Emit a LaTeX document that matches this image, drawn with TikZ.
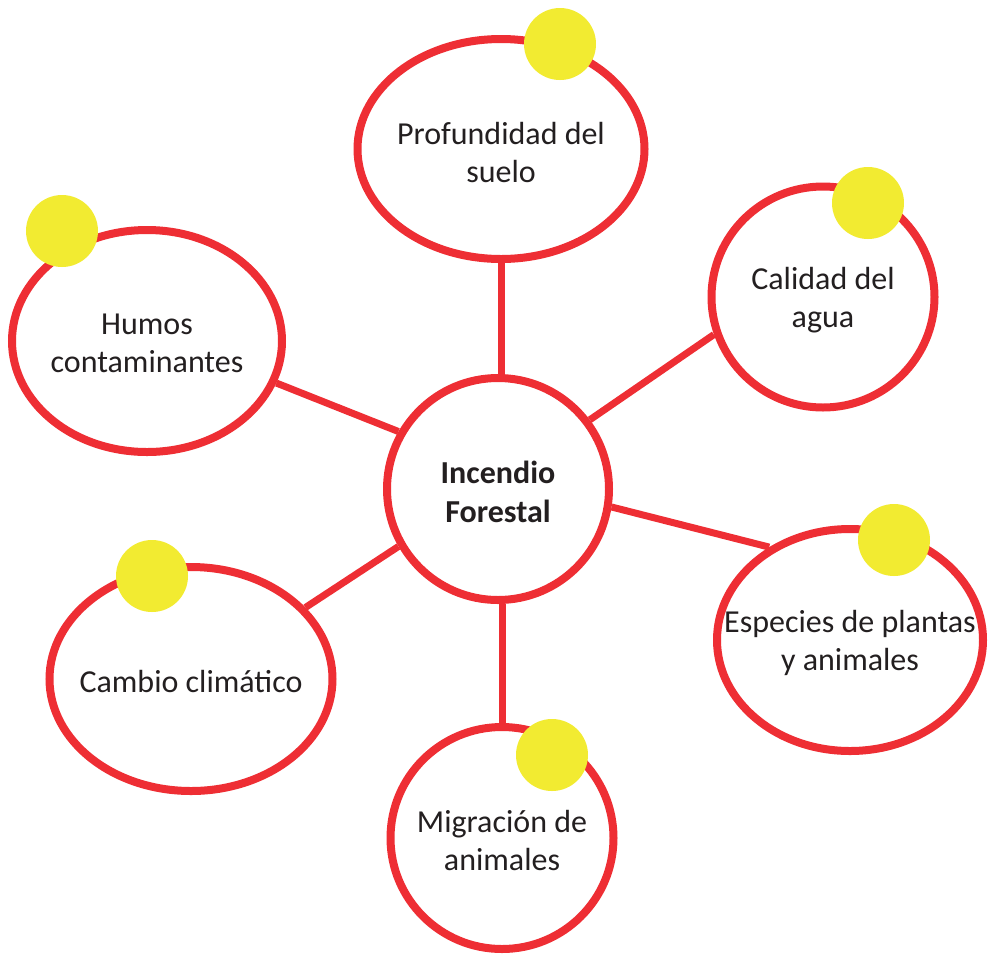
\documentclass[tikz,border=0pt]{standalone}
\usepackage{fontspec}
\setmainfont{Carlito}
\usetikzlibrary{shapes.geometric}
\definecolor{ringred}{RGB}{238,46,52}
\definecolor{dotyellow}{RGB}{242,235,49}
\definecolor{txt}{RGB}{35,31,32}
\pgfdeclarelayer{background}
\pgfsetlayers{background,main}
% text block whose last baseline sits #1 below the shape centre
\newcommand\bubtxt[2]{\raisebox{#1}[0pt][0pt]{\begin{tabular}[b]{@{}c@{}}#2\end{tabular}}}
\begin{document}
\begin{tikzpicture}[x=0.75pt,y=-0.75pt,
  bubble/.style={ellipse, draw=ringred, line width=6pt, fill=white, text=txt,
    font=\fontsize{24}{28.5}\selectfont, inner sep=-60pt},
  hub/.style={circle, draw=ringred, line width=6pt, fill=white, text=txt,
    font=\fontsize{24}{29}\selectfont\bfseries, inner sep=-40pt,
    minimum size=222*0.75pt},
  dot/.style={circle, fill=dotyellow, minimum size=54pt, inner sep=0pt},
  link/.style={draw=ringred, line width=5.25pt}]
\useasboundingbox (0,0) rectangle (992,954);

\node[hub] (C) at (498,489) {\bubtxt{-24.75pt}{Incendio\\Forestal}};
\node[bubble, minimum width=287*0.75pt, minimum height=220*0.75pt] (P) at (501,149) {\bubtxt{-24.75pt}{Profundidad del\\suelo}};
\node[bubble, minimum width=223*0.75pt, minimum height=221*0.75pt] (Q) at (823,297) {\bubtxt{-22.5pt}{Calidad del\\agua}};
\node[bubble, minimum width=270*0.75pt, minimum height=222*0.75pt] (H) at (147,341) {\bubtxt{-23.25pt}{Humos\\contaminantes}};
\node[bubble, minimum width=283*0.75pt, minimum height=224*0.75pt] (K) at (191,679) {\bubtxt{-9.75pt}{Cambio climático}};
\node[bubble, minimum width=266*0.75pt, minimum height=222*0.75pt] (E) at (850,640) {\bubtxt{-22.5pt}{Especies de plantas\\y animales}};
\node[bubble, minimum width=223*0.75pt, minimum height=222*0.75pt] (M) at (502,838) {\bubtxt{-24pt}{Migración de\\animales}};

\begin{pgfonlayer}{background}
\draw[link] (C.north -| P.south) -- (P.south);
\draw[link] (C.south -| M.north) -- (M.north);
\draw[link] (C.150) -- (H.-18);
\draw[link] (C.37) -- (Q.199);
\draw[link] (C.-9.5) -- (E.131.6);
\draw[link] (C.210) -- (K.32);
\end{pgfonlayer}

\node[dot] (d1) at (560,44) {};
\node[dot] (d2) at (868,203) {};
\node[dot] (d3) at (62,231) {};
\node[dot] (d4) at (152,576) {};
\node[dot] (d5) at (894,540) {};
\node[dot] (d6) at (552,755) {};
\end{tikzpicture}
\end{document}
